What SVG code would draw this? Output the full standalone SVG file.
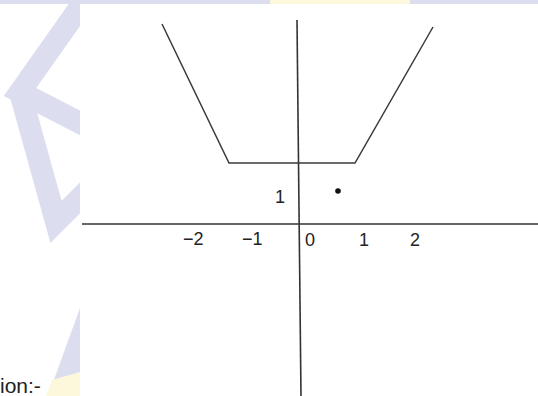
<svg xmlns="http://www.w3.org/2000/svg" width="538" height="396" viewBox="0 0 538 396">
  <style>
    .wm { fill: none; stroke: #dcdef0; stroke-width: 22; stroke-linejoin: miter; }
    .curve { fill: none; stroke: #3a3a3a; stroke-width: 1.5; }
    .axis { fill: none; stroke: #333; stroke-width: 1.6; }
    .lbl { font-family: "Liberation Sans", Arial, sans-serif; font-size: 18px; fill: #222; }
  </style>
  <rect width="538" height="396" fill="#ffffff"/>
  <g id="watermark">
    <rect x="0" y="0" width="538" height="4" fill="#dcdef0"/>
    <rect x="270" y="0" width="140" height="4" fill="#fdf8dc"/>
    <polyline class="wm" points="92,-10 20,92 90,128"/>
    <polyline class="wm" points="20,92 56,222 92,186"/>
    <polygon points="80,308 48,396 80,396" fill="#dcdef0"/>
    <polygon points="52,380 80,372 80,396 46,396" fill="#fdf8dc"/>
    <text x="0" y="393" font-family="Liberation Sans, Arial, sans-serif" font-size="21" fill="#222">ion:-</text>
  </g>
  <rect x="80" y="4" width="458" height="392" fill="#ffffff"/>
  <g id="connectors">
    <line id="x-axis" class="axis" x1="82" y1="224" x2="538" y2="224"/>
    <line id="y-axis" class="axis" x1="297" y1="20" x2="301" y2="396" stroke="#555"/>
    <polyline id="graph" class="curve" points="162,24 229,163 355,163 433,27"/>
  </g>
  <g id="point">
    <circle cx="338" cy="191" r="2.8" fill="#111"/>
  </g>
  <g id="labels">
    <text class="lbl" x="183" y="245">−2</text>
    <text class="lbl" x="242" y="245">−1</text>
    <text class="lbl" x="305" y="246">0</text>
    <text class="lbl" x="359" y="246">1</text>
    <text class="lbl" x="410" y="246">2</text>
    <text class="lbl" x="275" y="203">1</text>
  </g>
</svg>
